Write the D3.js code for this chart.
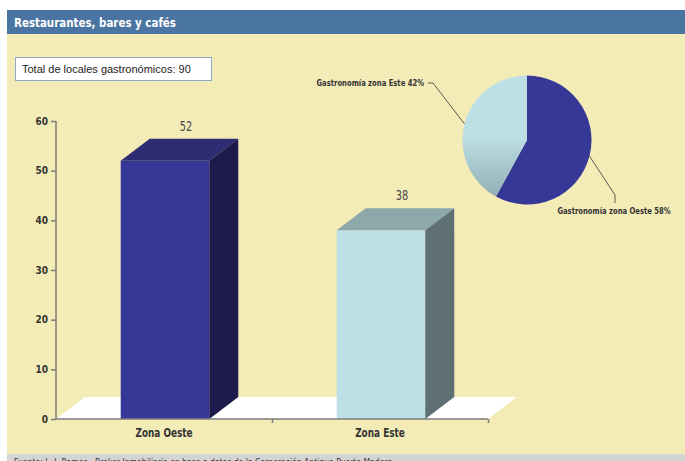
<html>
<head>
  <meta charset="utf-8">
  <title>Restaurantes, bares y cafés</title>
  <script src="https://cdnjs.cloudflare.com/ajax/libs/d3/7.8.5/d3.min.js"></script>
  <style>
    body { margin: 0; background: #fff; }
    .narrow { font-family: "Liberation Sans Narrow", "DejaVu Sans Condensed", "Arial Narrow", sans-serif; }
  </style>
</head>
<body>
  <svg></svg>
  <script>

var categories = ["Zona Oeste", "Zona Este"];
var values = [52, 38];
var yTicks = [0, 10, 20, 30, 40, 50, 60];
var pieLabels = ["Gastronomía zona Oeste 58%", "Gastronomía zona Este 42%"];
var pieShares = [58, 42];
var total = 90;

var w = 685;
var h = 461;
var svg = d3.select("svg")
  .attr("width", w)
  .attr("height", h);

// condensed text: place at x,y and squeeze horizontally by k
function squeezed(parent, x, y, k) {
  return parent.append("text").attr("class", "narrow")
    .attr("transform", "translate(" + x + "," + y + ") scale(" + k + ",1)");
}

// background bands
svg.append("rect").attr("x", 7).attr("y", 10).attr("width", w - 7).attr("height", 24).attr("fill", "#4a74a1");
svg.append("rect").attr("x", 7).attr("y", 34).attr("width", w - 7).attr("height", 420).attr("fill", "#f4ecb7");
svg.append("rect").attr("x", 7).attr("y", 454).attr("width", w - 7).attr("height", 7).attr("fill", "#d4d4d4");

squeezed(svg, 14, 27, 0.88)
  .attr("fill", "#fff").attr("font-weight", "bold").attr("font-size", 13)
  .text("Restaurantes, bares y cafés");

squeezed(svg, 14, 465, 0.9)
  .attr("fill", "#333").attr("font-size", 9.5)
  .text("Fuente: L. J. Ramos - Broker Inmobiliario en base a datos de la Corporación Antiguo Puerto Madero");

// total box
svg.append("rect").attr("x", 15.5).attr("y", 57.5).attr("width", 196).attr("height", 23)
  .attr("fill", "#fff").attr("stroke", "#8ea8c8");
svg.append("text")
  .attr("x", 22).attr("y", 73)
  .attr("font-family", "Liberation Sans, Arial, sans-serif").attr("font-size", 11).attr("fill", "#222")
  .text("Total de locales gastronómicos: " + total);

// bar chart
var margin = {left: 56, right: 197, top: 121, bottom: 42};
var x0 = margin.left, x1 = w - margin.right;
var yBase = h - margin.bottom;

var x = d3.scaleBand().domain(categories).range([x0, x1]).padding(0);
var y = d3.scaleLinear().domain([0, 60]).range([yBase, margin.top]);
var dx = 29, dy = 22;
var barw = x.bandwidth() * 0.41;

// floor
svg.append("path")
  .attr("d", "M" + x0 + "," + yBase + "L" + (x0 + dx) + "," + (yBase - dy) +
             "L" + (x1 + dx) + "," + (yBase - dy) + "L" + x1 + "," + yBase + "Z")
  .attr("fill", "#fff");

var front = ["#353896", "#bde0e6"];
var top_ = ["#2e2c72", "#8ca8aa"];
var side = ["#1d1b4c", "#5e7073"];

var bars = svg.selectAll("g.bar").data(values).enter().append("g").attr("class", "bar");
bars.each(function(d, i) {
  var g = d3.select(this);
  var bx = x(categories[i]) + (x.bandwidth() - barw) / 2 + 1;
  var by = y(d);
  g.append("rect").attr("x", bx).attr("y", by).attr("width", barw).attr("height", yBase - by).attr("fill", front[i]);
  g.append("path")
    .attr("d", "M" + bx + "," + by + "L" + (bx + dx) + "," + (by - dy) + "L" + (bx + barw + dx) + "," + (by - dy) + "L" + (bx + barw) + "," + by + "Z")
    .attr("fill", top_[i]);
  g.append("path")
    .attr("d", "M" + (bx + barw) + "," + by + "L" + (bx + barw + dx) + "," + (by - dy) + "L" + (bx + barw + dx) + "," + (yBase - dy) + "L" + (bx + barw) + "," + yBase + "Z")
    .attr("fill", side[i]);
  squeezed(g, bx + barw / 2 + 21, by - dy - 8, 0.78)
    .attr("text-anchor", "middle").attr("font-size", 14).attr("fill", "#4a4a4a")
    .text(d);
});

// axes
var yAxis = svg.append("g").attr("transform", "translate(" + x0 + ",0)")
  .call(d3.axisLeft(y).tickValues(yTicks).tickSize(5).tickPadding(3));
yAxis.select(".domain").attr("d", "M0," + margin.top + "V" + yBase);

var xt = d3.scaleLinear().domain([0, categories.length]).range([x0, x1]);
var xAxis = svg.append("g").attr("transform", "translate(0," + yBase + ")")
  .call(d3.axisBottom(xt).tickValues([1, 2]).tickSize(4).tickFormat(""));
xAxis.select(".domain").attr("d", "M" + x0 + ",0H" + x1);

[yAxis, xAxis].forEach(function(a) {
  a.selectAll(".domain, line").attr("stroke", "#7c7c7c").attr("stroke-width", 1.5);
  a.selectAll("text").attr("class", "narrow").attr("font-size", 10).attr("font-weight", "bold").attr("fill", "#333");
});

categories.forEach(function(c) {
  squeezed(svg, x(c) + x.bandwidth() / 2, yBase + 18, 0.86)
    .attr("text-anchor", "middle").attr("font-size", 11.5).attr("font-weight", "bold").attr("fill", "#333")
    .text(c);
});

// pie
var cx = 527, cy = 140, r = 64.5;
var defs = svg.append("defs");
var grad = defs.append("linearGradient").attr("id", "este").attr("gradientUnits", "userSpaceOnUse")
  .attr("x1", 0).attr("y1", -5).attr("x2", 0).attr("y2", r);
grad.append("stop").attr("offset", 0).attr("stop-color", "#bde0e6");
grad.append("stop").attr("offset", 1).attr("stop-color", "#8ca9ad");

var pie = d3.pie().sort(null).value(function(d) { return d; });
var arcs = pie(pieShares);
var arc = d3.arc().innerRadius(0).outerRadius(r);
var edge = d3.arc().innerRadius(r).outerRadius(r);
var pg = svg.append("g").attr("transform", "translate(" + cx + "," + cy + ")");
pg.selectAll("path.slice").data(arcs).enter().append("path")
  .attr("class", "slice")
  .attr("d", arc)
  .attr("fill", function(d, i) { return i === 0 ? "#353896" : "url(#este)"; });

// leader lines
var elbows = [[88, 55, 88, 63], [-94, -57, -99, -57]];
arcs.forEach(function(a, i) {
  var p = edge.centroid(a);
  var e = elbows[i];
  pg.append("path")
    .attr("d", "M" + p[0] + "," + p[1] + "L" + e[0] + "," + e[1] + "L" + e[2] + "," + e[3])
    .attr("fill", "none").attr("stroke", "#333").attr("stroke-width", 0.8);
  squeezed(pg, i === 0 ? e[2] - 1 : e[2] - 4, i === 0 ? e[3] + 11 : e[3] + 3, 0.8)
    .attr("text-anchor", i === 0 ? "middle" : "end")
    .attr("font-size", 9.5).attr("font-weight", "bold").attr("fill", "#333")
    .text(pieLabels[i]);
});

  </script>
</body>
</html>
